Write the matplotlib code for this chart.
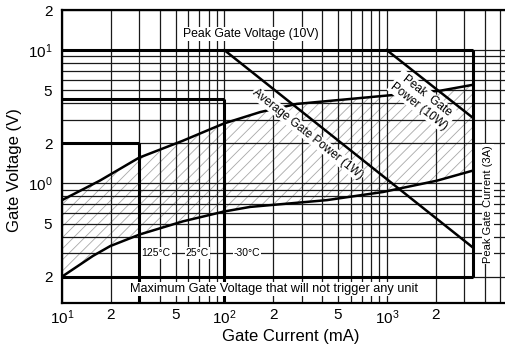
import numpy as np
import matplotlib
matplotlib.use('Agg')
import matplotlib.pyplot as plt
from matplotlib.ticker import LogLocator, NullFormatter

plt.rcParams['font.family'] = ['Liberation Sans', 'DejaVu Sans']
plt.rcParams['mathtext.fontset'] = 'custom'
plt.rcParams['mathtext.rm'] = 'Liberation Sans'
plt.rcParams['hatch.linewidth'] = 0.6

# ---- data ----
upper_I = [10, 17.1, 29.8, 55.4, 99.5, 166, 279, 975, 2130, 3400]
upper_V = [0.75, 1.05, 1.56, 2.09, 2.82, 3.43, 3.95, 4.55, 4.96, 5.5]
lower_I = [10, 15.5, 19.8, 30.2, 55.6, 99.5, 144, 428, 948, 2040, 3400]
lower_V = [0.2, 0.286, 0.339, 0.415, 0.52, 0.616, 0.667, 0.75, 0.863, 1.05, 1.25]
avg_power_I = [100, 3400]
avg_power_V = [10.0, 0.33]
peak_power_I = [1000, 3400]
peak_power_V = [10.0, 3.1]
peak_gate_voltage = 10.0
no_trigger_voltage = 0.2
peak_gate_current = 3400
trigger_I = [30, 100]
trigger_V = [2.0, 4.3]
temp_labels = ['125°C', '25°C', '-30°C']
temp_label_I = [38, 68, 138]
temp_label_V = 0.3
x_tick_values = [10, 20, 50, 100, 200, 500, 1000, 2000]
x_tick_labels = [r'$\mathregular{10^1}$', '2', '5', r'$\mathregular{10^2}$', '2', '5',
                 r'$\mathregular{10^3}$', '2']
y_tick_values = [0.2, 0.5, 1, 2, 5, 10, 20]
y_tick_labels = ['2', '5', r'$\mathregular{10^0}$', '2', '5', r'$\mathregular{10^1}$', '2']

W, H = 505, 352
fig = plt.figure(figsize=(W / 100, H / 100), dpi=100)
ax = fig.add_axes([62 / W, 1 - 302.5 / H, 445 / W, 292.5 / H])
ax.set_xscale('log')
ax.set_yscale('log')
ax.set_xlim(10, 5500)
ax.set_ylim(0.128, 20)
ymin = ax.get_ylim()[0]

for s in ['left', 'top', 'bottom']:
    ax.spines[s].set_linewidth(1.6)
ax.spines['right'].set_visible(False)

ax.set_xticks(x_tick_values)
ax.set_xticklabels(x_tick_labels)
ax.set_yticks(y_tick_values)
ax.set_yticklabels(y_tick_labels)
for axis in (ax.xaxis, ax.yaxis):
    axis.set_minor_locator(LogLocator(base=10, subs=np.arange(2, 10), numticks=30))
    axis.set_minor_formatter(NullFormatter())
ax.tick_params(which='both', length=0, labelsize=11)
ax.tick_params(axis='x', pad=4)
ax.tick_params(axis='y', pad=7)
ax.set_axisbelow('line')
ax.grid(True, which='both', color='#1a1a1a', lw=0.9)

# hatched region
ax.fill(np.concatenate([upper_I, lower_I[::-1]]),
        np.concatenate([upper_V, lower_V[::-1]]),
        facecolor='none', edgecolor='#a8a8a8', hatch='///', lw=0, zorder=1)

lk = dict(color='black', zorder=3)
ax.plot(upper_I, upper_V, lw=1.8, **lk)
ax.plot(lower_I, lower_V, lw=1.8, **lk)
ax.plot(avg_power_I, avg_power_V, lw=1.8, **lk)
ax.plot(peak_power_I, peak_power_V, lw=1.8, **lk)
ax.hlines([peak_gate_voltage, no_trigger_voltage], 10, peak_gate_current, lw=2.2, **lk)
ax.vlines(peak_gate_current, no_trigger_voltage, peak_gate_voltage, lw=2.2, **lk)
for I, V in zip(trigger_I, trigger_V):
    ax.vlines(I, ymin, V, lw=2.2, **lk)
    ax.hlines(V, 10, I, lw=2.2, **lk)


def angle(xs, ys):
    p = ax.transData.transform(np.column_stack([xs, ys]))
    d = p[-1] - p[0]
    return np.degrees(np.arctan2(d[1], d[0]))


bb = dict(facecolor='white', edgecolor='none', pad=0.6)
tk = dict(ha='center', va='center', zorder=6, bbox=bb, rotation_mode='anchor')
ax.text(146, 13.2, 'Peak Gate Voltage (10V)', fontsize=8.8, **tk)
ax.text(327, 2.35, 'Average Gate Power (1W)', fontsize=8.5,
        rotation=angle(avg_power_I, avg_power_V), **tk)
ax.text(1662, 4.16, 'Peak  Gate\nPower (10W)', fontsize=8.5, linespacing=1.15,
        rotation=angle(peak_power_I, peak_power_V), multialignment='center', **tk)
ax.text(4200, 0.70, 'Peak Gate Current (3A)', fontsize=8, rotation=90, **tk)
ax.text(202, 0.162, 'Maximum Gate Voltage that will not trigger any unit', fontsize=9.2, **tk)
for lab, I in zip(temp_labels, temp_label_I):
    ax.text(I, temp_label_V, lab, fontsize=7.5, **tk)

ax.set_xlabel('Gate Current (mA)', fontsize=12)
ax.set_ylabel('Gate Voltage (V)', fontsize=12)
ax.xaxis.set_label_coords(0.513, -0.092)
ax.yaxis.set_label_coords(-0.089, 0.453)

fig.savefig('out.png', dpi=100)
